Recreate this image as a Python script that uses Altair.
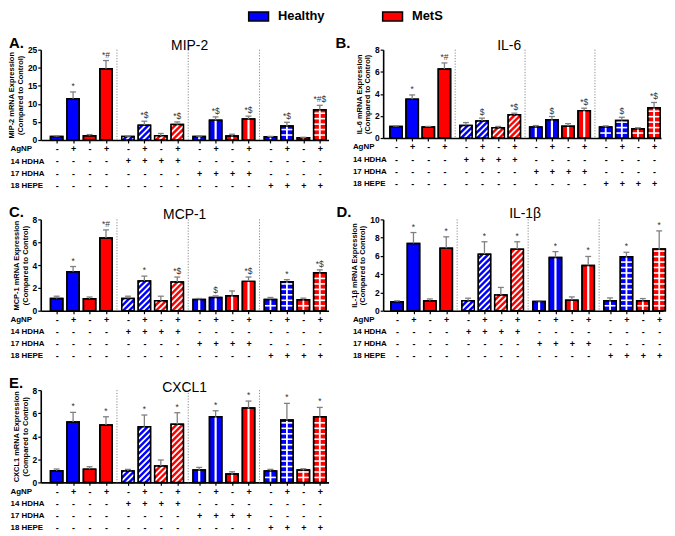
import altair as alt
import pandas as pd

FONT = "Liberation Sans"

# ---------------- data ----------------
conditions = ["Healthy", "MetS"]
condition_colors = ["#0000ff", "#ff0000"]

bar_condition = ["Healthy", "Healthy", "MetS", "MetS"] * 4
bar_treatment = ["none"] * 4 + ["14 HDHA"] * 4 + ["17 HDHA"] * 4 + ["18 HEPE"] * 4
row_names = ["AgNP", "14 HDHA", "17 HDHA", "18 HEPE"]
agnp_signs = ["-", "+", "-", "+"] * 4
hdha14_signs = ["-"] * 4 + ["+"] * 4 + ["-"] * 8
hdha17_signs = ["-"] * 8 + ["+"] * 4 + ["-"] * 4
hepe18_signs = ["-"] * 12 + ["+"] * 4

mip2_mean = [1.0, 11.4, 1.2, 19.7, 1.0, 4.1, 1.2, 4.3, 1.0, 5.5, 1.1, 5.8, 0.9, 3.9, 0.6, 8.4]
mip2_err = [1.15, 13.3, 1.5, 22.0, 1.1, 5.2, 1.8, 5.0, 1.1, 6.4, 1.6, 6.6, 1.0, 4.9, 0.75, 9.6]
mip2_sig = ["", "*", "", "*#", "", "*$", "", "*$", "", "*$", "", "*$", "", "*$", "", "*#$"]

il6_mean = [1.05, 3.5, 1.0, 6.25, 1.13, 1.55, 0.93, 2.1, 1.0, 1.65, 1.07, 2.48, 1.0, 1.58, 0.83, 2.75]
il6_err = [1.1, 3.9, 1.05, 6.8, 1.4, 1.8, 1.05, 2.25, 1.13, 1.95, 1.3, 2.7, 1.1, 1.88, 0.93, 3.22]
il6_sig = ["", "*", "", "*#", "", "$", "", "*$", "", "$", "", "*$", "", "$", "", "*$"]

mcp1_mean = [1.07, 3.41, 1.04, 6.36, 1.07, 2.6, 0.87, 2.51, 0.98, 1.16, 1.3, 2.57, 0.98, 2.54, 0.95, 3.32]
mcp1_err = [1.27, 3.87, 1.2, 7.08, 1.27, 3.03, 1.27, 2.95, 1.07, 1.3, 1.73, 2.95, 1.16, 2.72, 1.1, 3.58]
mcp1_sig = ["", "*", "", "*#", "", "*", "", "*$", "", "$", "", "*$", "", "*", "", "*$"]

il1b_mean = [0.97, 7.37, 1.08, 6.83, 1.08, 6.19, 1.73, 6.73, 1.0, 5.83, 1.15, 4.96, 1.1, 5.9, 1.08, 6.76]
il1b_err = [1.08, 8.56, 1.29, 8.09, 1.37, 7.55, 2.55, 7.55, 1.1, 6.47, 1.51, 5.94, 1.4, 6.4, 1.33, 8.74]
il1b_sig = ["", "*", "", "*", "", "*", "", "*", "", "*", "", "*", "", "*", "", "*"]

cxcl1_mean = [1.01, 5.23, 1.13, 4.97, 0.98, 4.83, 1.42, 5.03, 1.07, 5.69, 0.72, 6.45, 0.98, 5.4, 1.07, 5.69]
cxcl1_err = [1.16, 6.07, 1.36, 5.69, 1.13, 5.84, 1.94, 6.04, 1.3, 6.21, 0.92, 7.05, 1.13, 6.85, 1.18, 6.5]
cxcl1_sig = ["", "*", "", "*", "", "*", "", "*", "", "*", "", "*", "", "*", "", "*"]

# bar positions on the x scale: 4 groups of 4 bars
bar_pos = [13 * g + 3 * j + 3 for g in range(4) for j in range(4)]
divider_pos = [14, 27, 40]

panels_spec = [
    dict(name="MIP-2", letter="A.", mean=mip2_mean, err=mip2_err, sig=mip2_sig,
         ymax=25, step=5, width=290, height=91, xmin=0.1, xmax=52.6, lx=-32, tdx=5, ty=0),
    dict(name="IL-6", letter="B.", mean=il6_mean, err=il6_err, sig=il6_sig,
         ymax=8, step=2, width=280, height=89, xmin=0.6, xmax=52.3, lx=-48, tdx=-13, ty=0),
    dict(name="MCP-1", letter="C.", mean=mcp1_mean, err=mcp1_err, sig=mcp1_sig,
         ymax=8, step=2, width=290, height=92, xmin=0.1, xmax=52.6, lx=-32, tdx=0, ty=0),
    dict(name="IL-1β", letter="D.", mean=il1b_mean, err=il1b_err, sig=il1b_sig,
         ymax=10, step=2, width=282, height=92, xmin=0.45, xmax=51.7, lx=-47, tdx=2, ty=-1),
    dict(name="CXCL1", letter="E.", mean=cxcl1_mean, err=cxcl1_err, sig=cxcl1_sig,
         ymax=8, step=2, width=290, height=93, xmin=0.1, xmax=52.6, lx=-32, tdx=0, ty=2),
]

# ---------------- helpers ----------------
sign_labels = ["|".join([agnp_signs[i], hdha14_signs[i], hdha17_signs[i], hepe18_signs[i]])
               for i in range(16)]
label_expr = ("split([" + ",".join("'" + s + "'" for s in sign_labels) + "][indexof(["
              + ",".join(str(p) for p in bar_pos) + "], datum.value)], '|')")

LINE_H = 12.2


def x_axis():
    return alt.Axis(
        values=bar_pos, labelExpr=label_expr, labelFont=FONT, labelFontSize=9,
        labelFontWeight="bold", labelColor="black", labelBaseline="top",
        labelLineHeight=LINE_H, labelPadding=2, labelOverlap=False, labelFlush=False,
        tickSize=3, tickColor="black", tickWidth=1.2, domainColor="black", domainWidth=1.6,
        grid=False, titleX=-31, titleY=5, titleAlign="left", titleBaseline="top",
        titleFont=FONT, titleFontSize=8, titleFontWeight="bold", titleLineHeight=LINE_H,
        titleColor="black")


def y_axis(spec):
    ticks = list(range(0, spec["ymax"] + 1, spec["step"]))
    return alt.Axis(
        values=ticks, labelFont=FONT, labelFontSize=8.5, labelFontWeight="bold",
        labelColor="black", labelPadding=1, tickSize=3, tickColor="black", tickWidth=1.2,
        domainColor="black", domainWidth=1.6, grid=False, titleFont=FONT,
        titleFontSize=7.5, titleFontWeight="bold", titleColor="black",
        titleLineHeight=8.5, titlePadding=3)


def xenc(field, spec):
    return alt.X(f"{field}:Q",
                 scale=alt.Scale(domain=[spec["xmin"], spec["xmax"]], nice=False, zero=False),
                 axis=x_axis(), title=row_names)


def yenc(field, spec):
    return alt.Y(f"{field}:Q", scale=alt.Scale(domain=[0, spec["ymax"]], nice=False),
                 axis=y_axis(spec),
                 title=[spec["name"] + " mRNA Expression", "(Compared to Control)"])


def pattern_rows(pos, val, treat, kx, ky, hw):
    rows = []
    w = 2 * hw * kx
    h = val * ky
    xa = pos - hw

    def add(x0, y0, x1, y1, sw):
        rows.append(dict(px=xa + x0 / kx, py=y0 / ky, px2=xa + x1 / kx, py2=y1 / ky, sw=sw))

    if treat == "14 HDHA":
        d = 6.0
        c = -w + 2.0
        while c < h:
            x0 = max(0.0, -c)
            x1 = min(w, h - c)
            if x1 > x0 + 0.3:
                add(x0, x0 + c, x1, x1 + c, 1.8)
            c += d
    elif treat == "17 HDHA":
        add(w / 2, 0, w / 2, h, 2.2)
    elif treat == "18 HEPE":
        add(w / 2, 0, w / 2, h, 1.8)
        yy = 5.0
        while yy < h - 1.5:
            add(0, yy, w, yy, 1.6)
            yy += 5.5
    return rows


def make_panel(spec):
    kx = spec["width"] / (spec["xmax"] - spec["xmin"])
    ky = spec["height"] / spec["ymax"]
    hw = 6.2 / kx
    cap = 3.0 / kx
    df = pd.DataFrame({
        "pos": bar_pos,
        "x0": [p - hw for p in bar_pos],
        "x1": [p + hw for p in bar_pos],
        "c0": [p - cap for p in bar_pos],
        "c1": [p + cap for p in bar_pos],
        "mean": spec["mean"],
        "err": spec["err"],
        "sig": spec["sig"],
        "zero": [0] * 16,
        "condition": bar_condition,
        "treatment": bar_treatment,
    })
    prow = []
    for p, v, t in zip(bar_pos, spec["mean"], bar_treatment):
        prow += pattern_rows(p, v, t, kx, ky, hw)
    pdf = pd.DataFrame(prow)
    ddf = pd.DataFrame({"d": divider_pos, "top": [spec["ymax"]] * 3, "zero": [0] * 3})

    base = alt.Chart(df)
    color = alt.Color(
        "condition:N", scale=alt.Scale(domain=conditions, range=condition_colors),
        legend=alt.Legend(
            title=None, orient="none", legendX=213, legendY=-40, direction="horizontal",
            columns=2, symbolType="M-2,-0.9H2V0.9H-2Z", symbolSize=100,
            symbolStrokeColor="black", symbolStrokeWidth=1.5, labelFont=FONT,
            labelFontSize=13, labelFontWeight="bold", labelColor="black", labelOffset=13,
            columnPadding=55, padding=0))

    dividers = alt.Chart(ddf).mark_rule(color="#8a8a8a", strokeDash=[1.2, 1.6], strokeWidth=1).encode(
        x=xenc("d", spec), y=yenc("top", spec), y2="zero:Q")
    fill = base.mark_bar(stroke="black", strokeWidth=1.5).encode(
        x=xenc("x0", spec), x2="x1:Q", y=yenc("mean", spec), y2="zero:Q", color=color)
    pattern = alt.Chart(pdf).mark_rule(color="white").encode(
        x=xenc("px", spec), x2="px2:Q", y=yenc("py", spec), y2="py2:Q",
        strokeWidth=alt.StrokeWidth("sw:Q", scale=None))
    outline = base.mark_bar(fillOpacity=0, stroke="black", strokeWidth=1.5).encode(
        x=xenc("x0", spec), x2="x1:Q", y=yenc("mean", spec), y2="zero:Q")
    errv = base.mark_rule(color="#808080", strokeWidth=1.3).encode(
        x=xenc("pos", spec), y=yenc("mean", spec), y2="err:Q")
    errc = base.mark_rule(color="#808080", strokeWidth=1.3).encode(
        x=xenc("c0", spec), x2="c1:Q", y=yenc("err", spec))
    sig = base.mark_text(baseline="bottom", dy=-1, font=FONT, fontSize=8.5, color="#333333").encode(
        x=xenc("pos", spec), y=yenc("err", spec), text="sig:N")
    labels = alt.Chart(pd.DataFrame({"t": [spec["letter"]]})).mark_text(
        align="left", baseline="alphabetic", font=FONT, fontSize=15, fontWeight="bold",
        color="black").encode(text="t:N", x=alt.value(spec["lx"]), y=alt.value(-2))
    title = alt.Chart(pd.DataFrame({"t": [spec["name"]]})).mark_text(
        align="center", baseline="alphabetic", font=FONT, fontSize=14, color="black").encode(
        text="t:N", x=alt.value(spec["width"] / 2 + spec["tdx"]), y=alt.value(spec["ty"]))

    return alt.layer(dividers, fill, pattern, outline, errv, errc, sig, labels, title).properties(
        width=spec["width"], height=spec["height"])


panels = [make_panel(s) for s in panels_spec]

chart = alt.concat(*panels, columns=2).properties(
    spacing={"row": 80, "column": 55}, bounds="flush", align="each", padding=0
).configure(font=FONT).configure_view(stroke=None)

chart.save("out.html", embed_options={"renderer": "svg", "actions": False})
